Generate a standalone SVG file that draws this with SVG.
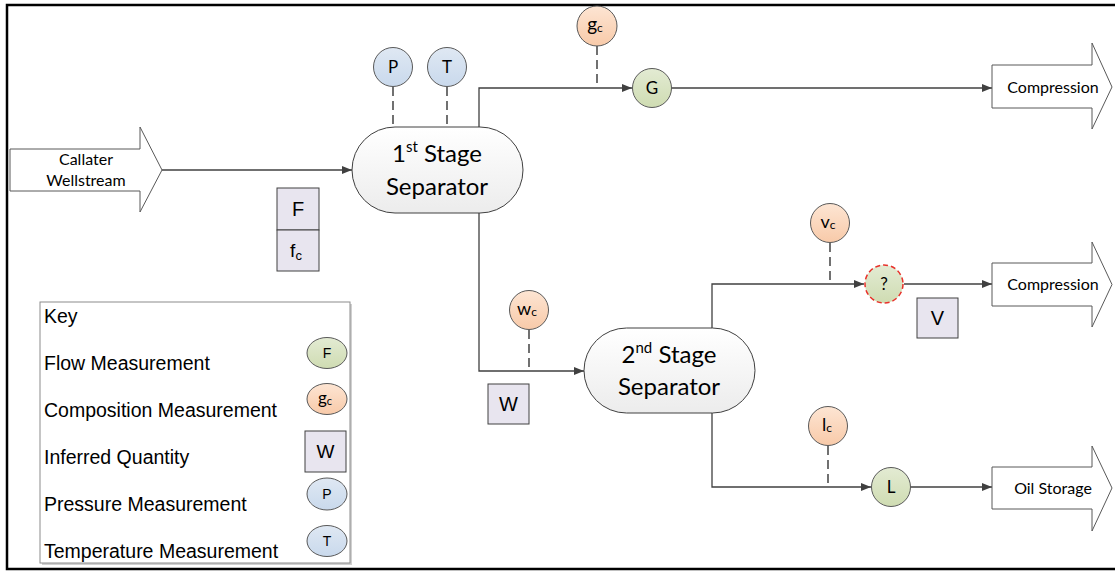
<svg xmlns="http://www.w3.org/2000/svg" width="1115" height="571" viewBox="0 0 1115 571">
<style>
.frame{fill:none;stroke:#000;stroke-width:2.5}
.blk{fill:#fff;stroke:#595959;stroke-width:1}
.sep{fill:url(#gSep);stroke:#404040;stroke-width:1}
.cb{fill:url(#gBlue);stroke:#595959;stroke-width:1}
.cg{fill:url(#gGreen);stroke:#595959;stroke-width:1}
.co{fill:url(#gOrange);stroke:#595959;stroke-width:1}
.qm{fill:url(#gGreen);stroke:#e8302a;stroke-width:1.5;stroke-dasharray:5 3}
.box{fill:#e8e5ef;stroke:#404040;stroke-width:1}
.ln{fill:none;stroke:#404040;stroke-width:1.3}
.dash{fill:none;stroke:#262626;stroke-width:1.3;stroke-dasharray:9 5}
.t{font-family:Lato,"Open Sans",sans-serif;fill:#000;text-anchor:middle}
.a{font-family:"Liberation Sans",Arial,sans-serif;fill:#000}
.keybox{fill:#fff;stroke:#8c8c8c;stroke-width:1}
</style>
<defs>
<linearGradient id="gSep" x1="0" y1="0" x2="0" y2="1"><stop offset="0" stop-color="#ffffff"/><stop offset="1" stop-color="#ececec"/></linearGradient>
<linearGradient id="gBlue" x1="0" y1="0" x2="0" y2="1"><stop offset="0" stop-color="#dfe8f3"/><stop offset="1" stop-color="#c9d9ec"/></linearGradient>
<linearGradient id="gGreen" x1="0" y1="0" x2="0" y2="1"><stop offset="0" stop-color="#e3ebd3"/><stop offset="1" stop-color="#cfdcb2"/></linearGradient>
<linearGradient id="gOrange" x1="0" y1="0" x2="0" y2="1"><stop offset="0" stop-color="#fde5d3"/><stop offset="1" stop-color="#f8caa9"/></linearGradient>
<marker id="arr" markerWidth="10" markerHeight="8" refX="10" refY="4" orient="auto" markerUnits="userSpaceOnUse"><path d="M0,0 L10,4 L0,8 Z" fill="#404040"/></marker>
</defs>
<rect width="1115" height="571" fill="#fff"/>
<path class="frame" d="M1116,5 L7,5 L7,569 L1116,569"/>

<g id="connectors">
<path class="ln" marker-end="url(#arr)" d="M162,170 L352,170"/>
<path class="ln" marker-end="url(#arr)" d="M479,127 L479,88 L632,88"/>
<path class="ln" marker-end="url(#arr)" d="M671,88 L992,88"/>
<path class="ln" marker-end="url(#arr)" d="M479,213 L479,371 L584,371"/>
<path class="ln" marker-end="url(#arr)" d="M712,328 L712,284 L864,284"/>
<path class="ln" marker-end="url(#arr)" d="M904,284 L992,284"/>
<path class="ln" marker-end="url(#arr)" d="M712,413 L712,487 L871,487"/>
<path class="ln" marker-end="url(#arr)" d="M910,487 L992,487"/>
<path class="dash" d="M393,87 L393,127"/>
<path class="dash" d="M447,87 L447,127"/>
<path class="dash" d="M597,46 L597,88"/>
<path class="dash" d="M529,330 L529,371"/>
<path class="dash" d="M830,243 L830,284"/>
<path class="dash" d="M828,446 L828,487"/>
</g>

<g id="callater">
<path class="blk" d="M10,149 L140,149 L140,127 L162,170 L140,212 L140,191 L10,191 Z"/>
<text class="t" x="86" y="165" font-size="16">Callater</text>
<text class="t" x="86" y="186" font-size="16">Wellstream</text>
</g>

<g id="sep1">
<rect class="sep" x="352" y="127" width="171" height="86" rx="43" ry="43"/>
<text class="t" x="437" y="162" font-size="24">1<tspan font-size="15" dy="-10">st</tspan><tspan dy="10"> Stage</tspan></text>
<text class="t" x="437" y="195" font-size="24">Separator</text>
</g>

<g id="P"><circle class="cb" cx="393" cy="67" r="19.5"/><text class="t" x="393" y="73" font-size="17">P</text></g>
<g id="T"><circle class="cb" cx="447" cy="67" r="19.5"/><text class="t" x="447" y="73" font-size="17">T</text></g>
<g id="gc"><circle class="co" cx="597" cy="26" r="20"/><text class="t" x="595" y="31" font-size="19">g<tspan font-size="12" dy="1">c</tspan></text></g>
<g id="G"><circle class="cg" cx="652" cy="88" r="19.5"/><text class="t" x="652" y="94" font-size="17">G</text></g>

<g id="comp1">
<path class="blk" d="M992,65 L1092,65 L1092,43 L1112,87 L1092,129 L1092,108 L992,108 Z"/>
<text class="t" x="1053" y="93" font-size="16">Compression</text>
</g>

<g id="Ffc">
<rect class="box" x="277" y="188" width="42" height="42"/>
<rect class="box" x="277" y="230" width="42" height="41"/>
<text class="a" x="298" y="216" font-size="20" text-anchor="middle">F</text>
<text class="a" x="296" y="257" font-size="19" text-anchor="middle">f<tspan font-size="13" dy="3">c</tspan></text>
</g>

<g id="wc"><circle class="co" cx="529" cy="310" r="19.5"/><text class="t" x="527" y="315" font-size="18">w<tspan font-size="12" dy="1">c</tspan></text></g>
<g id="W"><rect class="box" x="488" y="384" width="41" height="40"/><text class="a" x="508.5" y="411" font-size="20" text-anchor="middle">W</text></g>

<g id="sep2">
<rect class="sep" x="584" y="328" width="171" height="85" rx="42.5" ry="42.5"/>
<text class="t" x="669" y="363" font-size="24">2<tspan font-size="15" dy="-10">nd</tspan><tspan dy="10"> Stage</tspan></text>
<text class="t" x="669" y="395" font-size="24">Separator</text>
</g>

<g id="vc"><circle class="co" cx="830" cy="223" r="19.5"/><text class="t" x="828" y="228" font-size="18">v<tspan font-size="12" dy="1">c</tspan></text></g>
<g id="Q"><circle class="qm" cx="884" cy="284" r="19"/><text class="t" x="884" y="290" font-size="17">?</text></g>
<g id="V"><rect class="box" x="917" y="298" width="41" height="40"/><text class="a" x="937.5" y="325" font-size="20" text-anchor="middle">V</text></g>

<g id="comp2">
<path class="blk" d="M992,263 L1092,263 L1092,242 L1112,284.5 L1092,327 L1092,306 L992,306 Z"/>
<text class="t" x="1053" y="290" font-size="16">Compression</text>
</g>

<g id="lc"><circle class="co" cx="828" cy="426" r="19.5"/><text class="t" x="827" y="431" font-size="18">l<tspan font-size="12" dy="1">c</tspan></text></g>
<g id="L"><circle class="cg" cx="891" cy="487" r="19.5"/><text class="t" x="891" y="493" font-size="17">L</text></g>

<g id="oil">
<path class="blk" d="M992,467 L1092,467 L1092,446 L1112,488 L1092,531 L1092,509 L992,509 Z"/>
<text class="t" x="1053" y="494" font-size="16">Oil Storage</text>
</g>

<g id="key">
<rect x="42" y="304" width="310" height="261" fill="#d0d0d0"/>
<rect class="keybox" x="40" y="302" width="310" height="261"/>
<text class="a" x="44" y="323" font-size="19.5">Key</text>
<text class="a" x="44" y="370" font-size="19.5">Flow Measurement</text>
<text class="a" x="44" y="417" font-size="19.5">Composition Measurement</text>
<text class="a" x="44" y="464" font-size="19.5">Inferred Quantity</text>
<text class="a" x="44" y="511" font-size="19.5">Pressure Measurement</text>
<text class="a" x="44" y="558" font-size="19.5">Temperature Measurement</text>
<ellipse class="cg" cx="327" cy="353" rx="20" ry="15.5"/>
<text class="a" x="327" y="358" font-size="14" text-anchor="middle">F</text>
<ellipse class="co" cx="327" cy="399" rx="20" ry="15.5"/>
<text class="t" x="325" y="404" font-size="17">g<tspan font-size="11" dy="1">c</tspan></text>
<rect class="box" x="305" y="431" width="41" height="41"/>
<text class="a" x="325.5" y="458" font-size="19" text-anchor="middle">W</text>
<ellipse class="cb" cx="327" cy="494" rx="20" ry="16"/>
<text class="a" x="327" y="499" font-size="14" text-anchor="middle">P</text>
<ellipse class="cb" cx="327" cy="541" rx="20" ry="15.5"/>
<text class="a" x="327" y="546" font-size="14" text-anchor="middle">T</text>
</g>
</svg>
